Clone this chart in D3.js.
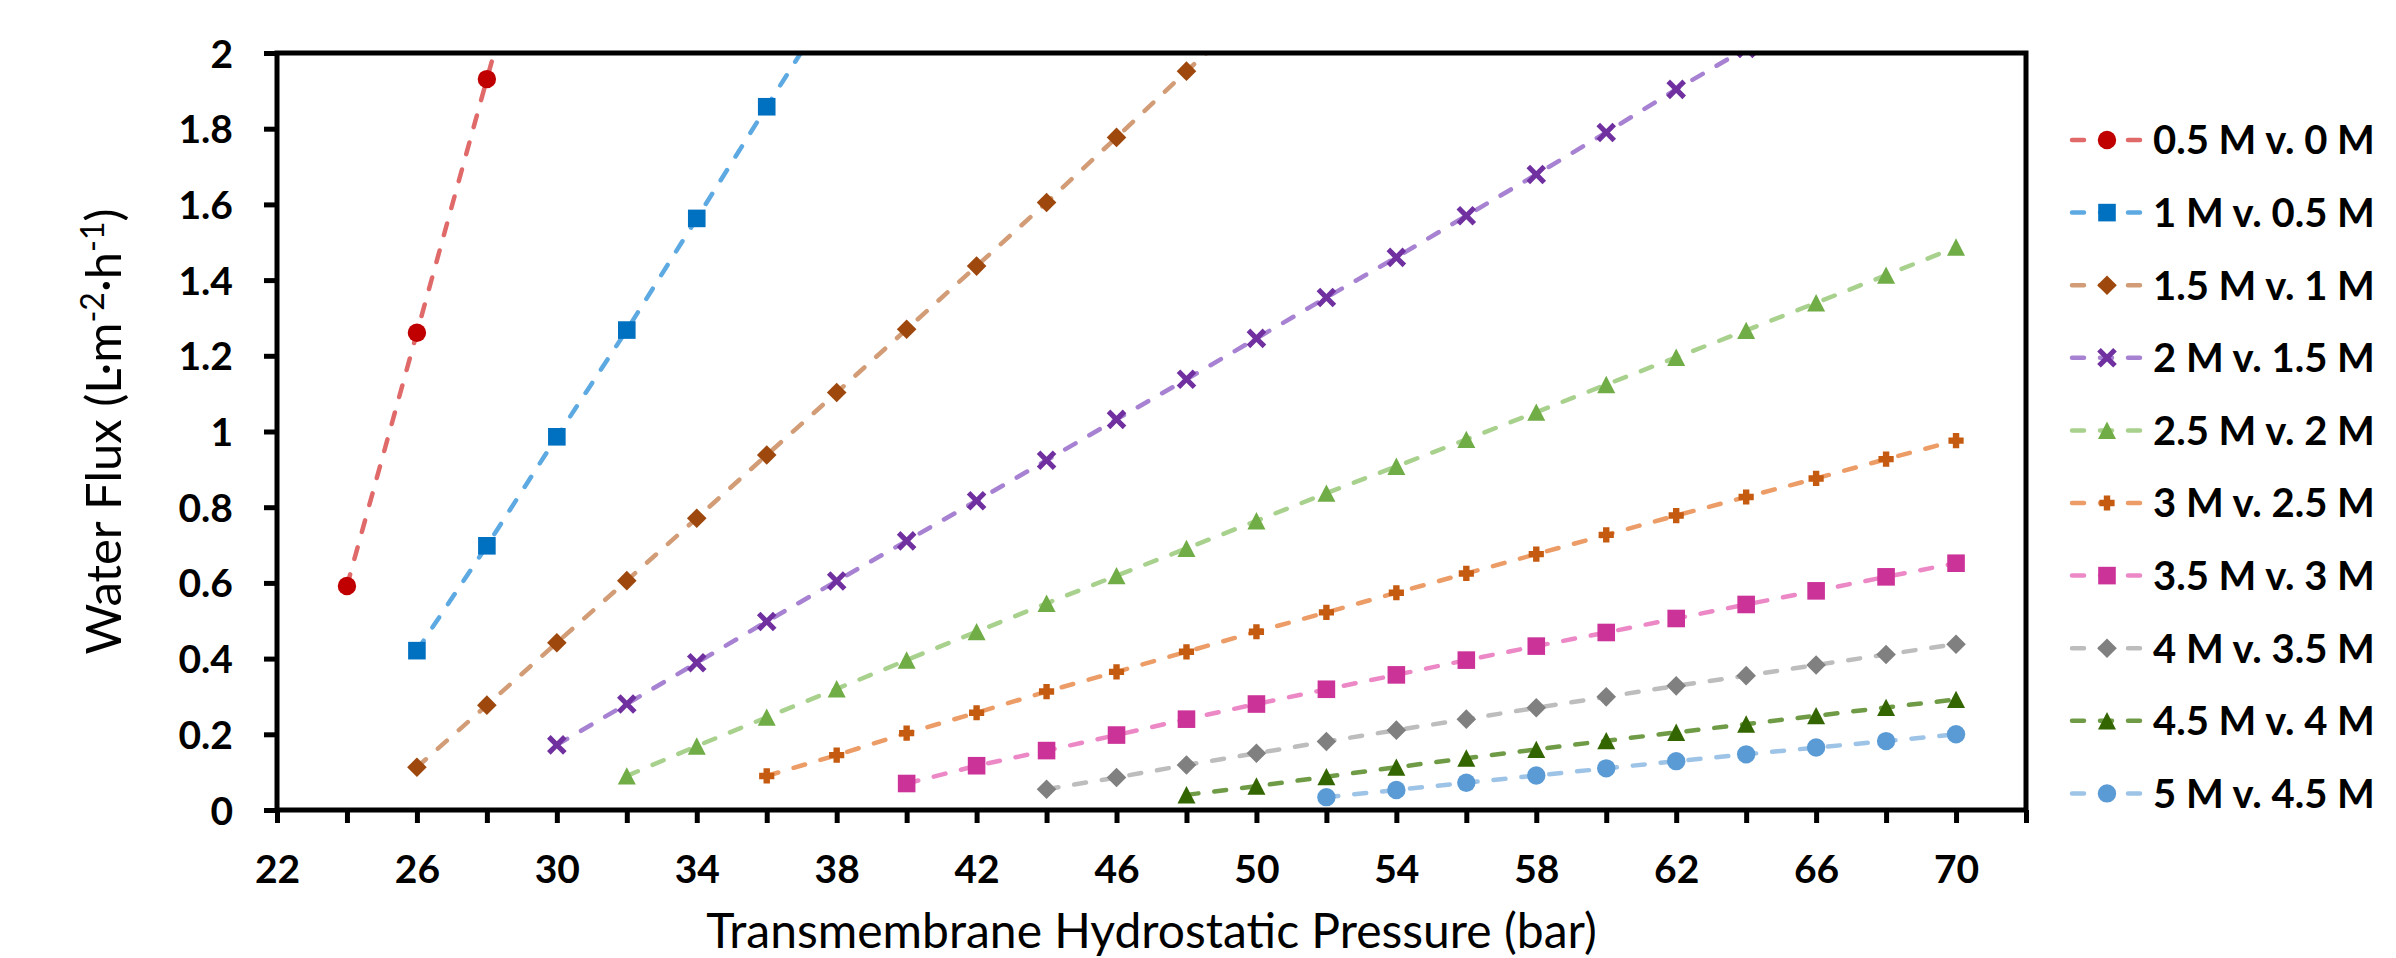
<!DOCTYPE html>
<html>
<head>
<meta charset="utf-8">
<script src="https://cdn.jsdelivr.net/npm/d3@7"></script>
<style>
  body { margin: 0; background: #fff; }
  svg { display: block; }
</style>
</head>
<body>
<div id="chart"></div>
<script>
// pressure (bar), one entry per measured point; series below index into it
const pressure = [24, 26, 28, 30, 32, 34, 36, 38, 40, 42, 44, 46, 48, 50, 52, 54, 56, 58, 60, 62, 64, 66, 68, 70];

const seriesNames = ["0.5 M v. 0 M", "1 M v. 0.5 M", "1.5 M v. 1 M", "2 M v. 1.5 M", "2.5 M v. 2 M",
    "3 M v. 2.5 M", "3.5 M v. 3 M", "4 M v. 3.5 M", "4.5 M v. 4 M", "5 M v. 4.5 M"];

// water flux (L m-2 h-1); null = no point at that pressure, values above 2 fall off the axis
const flux05 = [0.592, 1.261, 1.931, 2.600];
const flux10 = [null, 0.421, 0.698, 0.986, 1.268, 1.563, 1.858, 2.150];
const flux15 = [null, 0.113, 0.277, 0.442, 0.606, 0.771, 0.938, 1.103, 1.270, 1.437, 1.605, 1.777, 1.952, 2.120];
const flux20 = [null, null, null, 0.172, 0.280, 0.389, 0.498, 0.605, 0.711, 0.817, 0.924, 1.032, 1.138, 1.246,
    1.354, 1.460, 1.570, 1.679, 1.790, 1.904, 2.012];
const flux25 = [null, null, null, null, 0.090, 0.169, 0.245, 0.320, 0.396, 0.471, 0.546, 0.619, 0.691, 0.764,
    0.837, 0.908, 0.979, 1.051, 1.124, 1.196, 1.267, 1.340, 1.413, 1.487];
const flux30 = [null, null, null, null, null, null, 0.090, 0.145, 0.203, 0.257, 0.313, 0.365, 0.418, 0.471,
    0.522, 0.574, 0.625, 0.676, 0.727, 0.778, 0.827, 0.876, 0.927, 0.976];
const flux35 = [null, null, null, null, null, null, null, null, 0.070, 0.117, 0.157, 0.198, 0.240, 0.280,
    0.319, 0.357, 0.396, 0.433, 0.469, 0.506, 0.543, 0.579, 0.616, 0.652];
const flux40 = [null, null, null, null, null, null, null, null, null, null, 0.055, 0.086, 0.119, 0.150,
    0.181, 0.211, 0.240, 0.270, 0.299, 0.328, 0.355, 0.383, 0.411, 0.438];
const flux45 = [null, null, null, null, null, null, null, null, null, null, null, null, 0.040, 0.063,
    0.088, 0.113, 0.137, 0.160, 0.183, 0.205, 0.227, 0.249, 0.271, 0.292];
const flux50 = [null, null, null, null, null, null, null, null, null, null, null, null, null, null,
    0.034, 0.053, 0.072, 0.091, 0.110, 0.129, 0.147, 0.165, 0.182, 0.200];

const markerColors = ["#C00000", "#0070C0", "#9E480E", "#7030A0", "#70AD47", "#C55A11", "#CC3399", "#808080", "#336600", "#5B9BD5"];
const lineColors = ["#E06A6A", "#5DA9E2", "#D29C76", "#A882D2", "#A9D18E", "#EC9C66", "#EC88C6", "#BDBDBD", "#6F9B46", "#9DC3E6"];
const markerShapes = ["circle", "square", "diamond", "x", "triangle", "plus", "square", "diamond", "triangle", "circle"];

const xTicks = [22, 24, 26, 28, 30, 32, 34, 36, 38, 40, 42, 44, 46, 48, 50, 52, 54, 56, 58, 60, 62, 64, 66, 68, 70, 72];
const xLabels = [22, 26, 30, 34, 38, 42, 46, 50, 54, 58, 62, 66, 70];
const yTicks = [0, 0.2, 0.4, 0.6, 0.8, 1, 1.2, 1.4, 1.6, 1.8, 2];

const allFlux = [flux05, flux10, flux15, flux20, flux25, flux30, flux35, flux40, flux45, flux50];

const W = 2396, H = 958;
const plot = {left: 277, right: 2026, top: 53, bottom: 810};

const x = d3.scaleLinear().domain([22, 72]).range([plot.left, plot.right]);
const y = d3.scaleLinear().domain([0, 2]).range([plot.bottom, plot.top]);

const svg = d3.select("#chart").append("svg")
    .attr("width", W)
    .attr("height", H)
    .style("font-family", "Lato, 'Open Sans', sans-serif");

svg.append("defs").append("clipPath")
    .attr("id", "plotClip")
    .append("rect")
    .attr("x", plot.left)
    .attr("y", plot.top)
    .attr("width", plot.right - plot.left)
    .attr("height", plot.bottom - plot.top);

// marker paths, centred on 0,0
function markerPath(shape) {
    const p = d3.path();
    if (shape === "circle") {
        p.arc(0, 0, 9.2, 0, 2 * Math.PI);
    } else if (shape === "square") {
        p.rect(-8.8, -8.8, 17.6, 17.6);
    } else if (shape === "diamond") {
        p.moveTo(0, -9.8); p.lineTo(9.8, 0); p.lineTo(0, 9.8); p.lineTo(-9.8, 0); p.closePath();
    } else if (shape === "triangle") {
        p.moveTo(0, -8.8); p.lineTo(9, 8.6); p.lineTo(-9, 8.6); p.closePath();
    } else if (shape === "plus") {
        const a = 7.6, b = 3.2;
        p.moveTo(-b, -a); p.lineTo(b, -a); p.lineTo(b, -b); p.lineTo(a, -b); p.lineTo(a, b); p.lineTo(b, b);
        p.lineTo(b, a); p.lineTo(-b, a); p.lineTo(-b, b); p.lineTo(-a, b); p.lineTo(-a, -b); p.lineTo(-b, -b);
        p.closePath();
    } else if (shape === "x") {
        const pts = [[0, -3.6], [6.2, -9.8], [9.8, -6.2], [3.6, 0], [9.8, 6.2], [6.2, 9.8], [0, 3.6],
            [-6.2, 9.8], [-9.8, 6.2], [-3.6, 0], [-9.8, -6.2], [-6.2, -9.8]];
        p.moveTo(pts[0][0], pts[0][1]);
        pts.slice(1).forEach(d => p.lineTo(d[0], d[1]));
        p.closePath();
    }
    return p.toString();
}

// axes
const xAxis = d3.axisBottom(x)
    .tickValues(xTicks)
    .tickSize(13)
    .tickSizeOuter(0)
    .tickPadding(32)
    .tickFormat(d => xLabels.includes(d) ? d : "");

const yAxis = d3.axisLeft(y)
    .tickValues(yTicks)
    .tickSize(13)
    .tickSizeOuter(0)
    .tickPadding(31)
    .tickFormat(d => String(+d.toFixed(1)));

const gx = svg.append("g")
    .attr("transform", `translate(0,${plot.bottom})`)
    .call(xAxis);
const gy = svg.append("g")
    .attr("transform", `translate(${plot.left},0)`)
    .call(yAxis);

[gx, gy].forEach(g => {
    g.select(".domain").remove();
    g.selectAll(".tick line").attr("stroke", "#000").attr("stroke-width", 5);
    g.selectAll(".tick text")
        .attr("fill", "#000")
        .style("font-size", "39px")
        .style("font-weight", "bold")
        .style("font-family", "Lato, 'Open Sans', sans-serif");
});
gy.selectAll(".tick text").attr("dy", "0.36em");

// series lines and markers
const lineGen = d3.line()
    .defined(d => d[1] != null)
    .x(d => x(d[0]))
    .y(d => y(d[1]));

const seriesG = svg.append("g").attr("clip-path", "url(#plotClip)");

allFlux.forEach((vals, i) => {
    const pts = vals.map((v, j) => [pressure[j], v]);
    seriesG.append("path")
        .datum(pts)
        .attr("fill", "none")
        .attr("stroke", lineColors[i])
        .attr("stroke-width", 4.5)
        .attr("stroke-dasharray", "12,16")
        .attr("stroke-linecap", "round")
        .attr("d", lineGen);
});

allFlux.forEach((vals, i) => {
    const pts = vals.map((v, j) => [pressure[j], v]).filter(d => d[1] != null);
    seriesG.append("g")
        .selectAll("path")
        .data(pts)
        .join("path")
        .attr("transform", d => `translate(${x(d[0])},${y(d[1])})`)
        .attr("d", markerPath(markerShapes[i]))
        .attr("fill", markerColors[i]);
});

// plot frame
svg.append("rect")
    .attr("x", plot.left)
    .attr("y", plot.top)
    .attr("width", plot.right - plot.left)
    .attr("height", plot.bottom - plot.top)
    .attr("fill", "none")
    .attr("stroke", "#000")
    .attr("stroke-width", 5);

// axis titles, centred on the plot area
svg.append("text")
    .attr("x", (plot.left + plot.right) / 2)
    .attr("y", 948)
    .attr("text-anchor", "middle")
    .style("font-size", "48px")
    .text("Transmembrane Hydrostatic Pressure (bar)");

const yTitle = svg.append("text")
    .attr("transform", `translate(121,${(plot.top + plot.bottom) / 2}) rotate(-90)`)
    .attr("text-anchor", "middle")
    .style("font-size", "49px");
yTitle.append("tspan").text("Water Flux (L·m");
yTitle.append("tspan").attr("dy", -17).style("font-size", "32px").text("-2");
yTitle.append("tspan").attr("dy", 17).text("·h");
yTitle.append("tspan").attr("dy", -17).style("font-size", "32px").text("-1");
yTitle.append("tspan").attr("dy", 17).text(")");

// legend
const legend = svg.append("g")
    .selectAll("g")
    .data(seriesNames)
    .join("g")
    .attr("transform", (d, i) => `translate(2070,${140 + i * 72.6})`);

legend.append("line")
    .attr("x1", 2).attr("x2", 74)
    .attr("stroke", (d, i) => lineColors[i])
    .attr("stroke-width", 4.5)
    .attr("stroke-dasharray", "12,16")
    .attr("stroke-linecap", "round");

legend.append("path")
    .attr("transform", "translate(37,0)")
    .attr("d", (d, i) => markerPath(markerShapes[i]))
    .attr("fill", (d, i) => markerColors[i]);

legend.append("text")
    .attr("x", 83)
    .attr("dy", "0.36em")
    .style("font-size", "40px")
    .style("font-weight", "bold")
    .text(d => d);
</script>
</body>
</html>
